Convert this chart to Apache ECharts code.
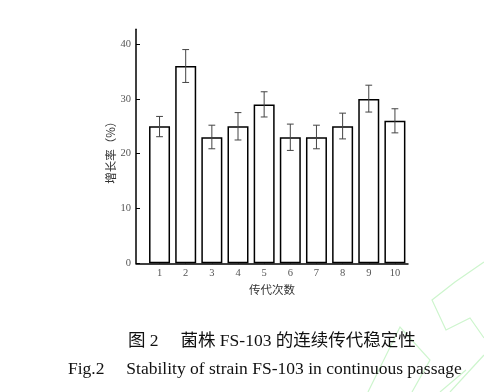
<!DOCTYPE html>
<html>
<head>
<meta charset="utf-8">
<script src="https://cdn.jsdelivr.net/npm/echarts@6/dist/echarts.min.js"></script>
<style>html,body{margin:0;padding:0;background:#fff;}#c{width:484px;height:392px;}</style>
</head>
<body>
<div id="c"></div>
<script>
const categories = [1, 2, 3, 4, 5, 6, 7, 8, 9, 10];
const growthRate = [25, 36, 23, 25, 29, 23, 23, 25, 30, 26];
const errorLow = [23.1, 33.0, 20.9, 22.5, 26.7, 20.6, 20.9, 22.7, 27.6, 23.8];
const errorHigh = [26.8, 39.0, 25.2, 27.5, 31.3, 25.4, 25.2, 27.4, 32.5, 28.2];
const yTicks = [0, 10, 20, 30, 40];
const xTitle = '传代次数';
const yTitle = '增长率（%）';
const captionCn = '图 2\u3000 菌株 FS-103 的连续传代稳定性';
const captionEn = 'Fig.2\u2003 Stability of strain FS-103 in continuous passage';

const chart = echarts.init(document.getElementById('c'), null, {renderer: 'canvas'});
const serif = 'Liberation Serif, Noto Sans CJK SC, serif';
const wm = '#cdf5cd';
chart.setOption({
  animation: false,
  backgroundColor: '#fff',
  grid: {left: 136, right: 76, top: 29.3, bottom: 128.7, containLabel: false},
  xAxis: {
    type: 'value', min: 0.1, max: 10.5,
    name: xTitle, nameLocation: 'middle', nameGap: 20,
    nameTextStyle: {fontFamily: 'Noto Sans CJK SC', fontSize: 11.5, color: '#333'},
    axisLine: {show: true, onZero: false, lineStyle: {color: '#000', width: 1.5}},
    axisTick: {show: true, inside: true, length: 4, customValues: categories, lineStyle: {color: '#000', width: 1}},
    axisLabel: {customValues: categories, fontFamily: serif, fontSize: 10.5, color: '#555', margin: 5},
    splitLine: {show: false}
  },
  yAxis: {
    type: 'value', min: 0, max: 42.7,
    name: yTitle, nameLocation: 'middle', nameGap: 19.5, nameRotate: 90, nameMoveOverlap: false,
    nameTextStyle: {fontFamily: 'Noto Sans CJK SC', fontSize: 11.5, color: '#333', padding: [0, 7, 0, 0]},
    axisLine: {show: true, lineStyle: {color: '#000', width: 1.5}},
    axisTick: {show: true, inside: true, length: 4, customValues: yTicks, lineStyle: {color: '#000', width: 1}},
    axisLabel: {customValues: yTicks, fontFamily: serif, fontSize: 10.5, color: '#555', margin: 5},
    splitLine: {show: false}
  },
  series: [
    {
      type: 'bar', barWidth: 21,
      data: categories.map((c, i) => [c, growthRate[i]]),
      itemStyle: {color: '#fff', borderColor: '#000', borderWidth: 1.5}
    },
    {
      type: 'custom',
      data: categories.map((c, i) => [c, errorLow[i], errorHigh[i]]),
      renderItem: function (params, api) {
        const lo = api.coord([api.value(0), api.value(1)]);
        const hi = api.coord([api.value(0), api.value(2)]);
        const w = 3.4;
        const st = {stroke: '#444', lineWidth: 1};
        return {type: 'group', children: [
          {type: 'line', shape: {x1: hi[0], y1: hi[1], x2: lo[0], y2: lo[1]}, style: st},
          {type: 'line', shape: {x1: hi[0] - w, y1: hi[1], x2: hi[0] + w, y2: hi[1]}, style: st},
          {type: 'line', shape: {x1: lo[0] - w, y1: lo[1], x2: lo[0] + w, y2: lo[1]}, style: st}
        ]};
      },
      z: 5
    }
  ],
  graphic: [
    {type: 'polyline', shape: {points: [[484,262],[455,282],[432,300],[446,330],[470,318],[484,338]]}, style: {stroke: wm, fill: null, lineWidth: 1.2}, z: -1},
    {type: 'polyline', shape: {points: [[484,355],[450,392]]}, style: {stroke: wm, fill: null, lineWidth: 1.2}, z: -1},
    {type: 'polyline', shape: {points: [[368,392],[400,327],[430,360],[412,392]]}, style: {stroke: wm, fill: null, lineWidth: 1.2}, z: -1},
    {type: 'polyline', shape: {points: [[440,392],[466,370]]}, style: {stroke: wm, fill: null, lineWidth: 1.2}, z: -1},
    {type: 'text', left: 128, top: 333, style: {text: captionCn, font: '17.5px "Liberation Serif", "Noto Sans CJK SC"', fill: '#111'}},
    {type: 'text', left: 68, top: 360, style: {text: captionEn, font: '17.5px "Liberation Serif"', fill: '#111'}}
  ]
});
</script>
</body>
</html>
